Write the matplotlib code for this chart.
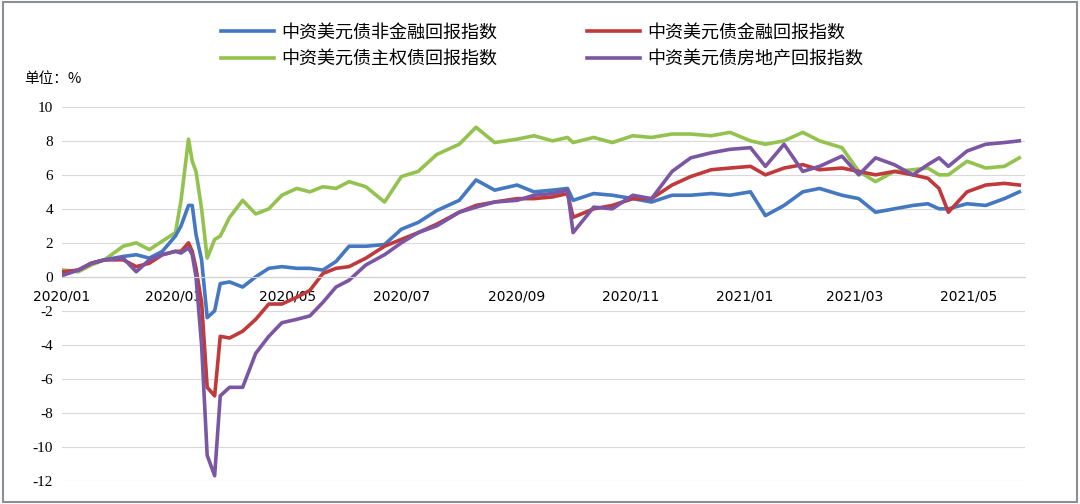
import matplotlib as mpl
mpl.use("Agg")
import matplotlib.pyplot as plt
from matplotlib.patches import Rectangle
import pandas as pd

dates = ["2020-01-02", "2020-01-10", "2020-01-17", "2020-01-24", "2020-02-03", "2020-02-10",
         "2020-02-17", "2020-02-24", "2020-03-02", "2020-03-05", "2020-03-09", "2020-03-11",
         "2020-03-13", "2020-03-16", "2020-03-19", "2020-03-23", "2020-03-26", "2020-03-31",
         "2020-04-07", "2020-04-14", "2020-04-21", "2020-04-28", "2020-05-06", "2020-05-13",
         "2020-05-20", "2020-05-27", "2020-06-03", "2020-06-12", "2020-06-22", "2020-07-01",
         "2020-07-10", "2020-07-20", "2020-08-01", "2020-08-10", "2020-08-20", "2020-09-01",
         "2020-09-10", "2020-09-20", "2020-09-28", "2020-10-01", "2020-10-12", "2020-10-22",
         "2020-11-02", "2020-11-12", "2020-11-23", "2020-12-03", "2020-12-14", "2020-12-24",
         "2021-01-04", "2021-01-12", "2021-01-22", "2021-02-01", "2021-02-10", "2021-02-22",
         "2021-03-03", "2021-03-12", "2021-03-22", "2021-04-01", "2021-04-09", "2021-04-15",
         "2021-04-20", "2021-04-30", "2021-05-10", "2021-05-20", "2021-05-28"]

nonfin = [0.2, 0.4, 0.8, 1.0, 1.2, 1.3, 1.1, 1.5, 2.4, 3.0, 4.2, 4.2, 2.5, 1.0, -2.4, -2.0,
          -0.4, -0.3, -0.6, 0.0, 0.5, 0.6, 0.5, 0.5, 0.4, 0.9, 1.8, 1.8, 1.9, 2.8, 3.2, 3.9,
          4.5, 5.7, 5.1, 5.4, 5.0, 5.1, 5.2, 4.5, 4.9, 4.8, 4.6, 4.4, 4.8, 4.8, 4.9, 4.8,
          5.0, 3.6, 4.2, 5.0, 5.2, 4.8, 4.6, 3.8, 4.0, 4.2, 4.3, 4.0, 4.0, 4.3, 4.2, 4.6, 5.0]
fin = [0.3, 0.4, 0.8, 1.0, 1.0, 0.6, 0.8, 1.3, 1.5, 1.5, 2.0, 1.5, 0.5, -1.5, -6.5, -7.0,
       -3.5, -3.6, -3.2, -2.5, -1.6, -1.6, -1.2, -0.8, 0.2, 0.5, 0.6, 1.1, 1.8, 2.2, 2.6, 3.1,
       3.8, 4.2, 4.4, 4.6, 4.6, 4.7, 4.9, 3.5, 4.0, 4.2, 4.6, 4.6, 5.4, 5.9, 6.3, 6.4,
       6.5, 6.0, 6.4, 6.6, 6.3, 6.4, 6.2, 6.0, 6.2, 6.0, 5.8, 5.2, 3.8, 5.0, 5.4, 5.5, 5.4]
sov = [0.4, 0.3, 0.7, 1.0, 1.8, 2.0, 1.6, 2.1, 2.6, 4.5, 8.1, 6.8, 6.2, 4.0, 1.1, 2.2,
       2.4, 3.5, 4.5, 3.7, 4.0, 4.8, 5.2, 5.0, 5.3, 5.2, 5.6, 5.3, 4.4, 5.9, 6.2, 7.2,
       7.8, 8.8, 7.9, 8.1, 8.3, 8.0, 8.2, 7.9, 8.2, 7.9, 8.3, 8.2, 8.4, 8.4, 8.3, 8.5,
       8.0, 7.8, 8.0, 8.5, 8.0, 7.6, 6.2, 5.6, 6.2, 6.3, 6.4, 6.0, 6.0, 6.8, 6.4, 6.5, 7.0]
prop = [0.1, 0.4, 0.8, 1.0, 1.1, 0.3, 1.0, 1.3, 1.5, 1.4, 1.7, 1.3, 0.0, -4.0, -10.5, -11.7,
        -7.0, -6.5, -6.5, -4.5, -3.5, -2.7, -2.5, -2.3, -1.5, -0.6, -0.2, 0.7, 1.3, 2.0, 2.6, 3.0,
        3.8, 4.1, 4.4, 4.5, 4.8, 4.9, 5.1, 2.6, 4.1, 4.0, 4.8, 4.6, 6.2, 7.0, 7.3, 7.5,
        7.6, 6.5, 7.8, 6.2, 6.5, 7.1, 6.0, 7.0, 6.6, 6.0, 6.6, 7.0, 6.5, 7.4, 7.8, 7.9, 8.0]

names = ["中资美元债非金融回报指数", "中资美元债金融回报指数",
         "中资美元债主权债回报指数", "中资美元债房地产回报指数"]
colors = ["#4478C0", "#C0393B", "#93C24F", "#7B56A3"]
tick_dates = ["2020-01-01", "2020-03-01", "2020-05-01", "2020-07-01", "2020-09-01",
              "2020-11-01", "2021-01-01", "2021-03-01", "2021-05-01"]
tick_labels = ["2020/01", "2020/03", "2020/05", "2020/07", "2020/09",
               "2020/11", "2021/01", "2021/03", "2021/05"]

cjk = ["Noto Sans CJK SC", "DejaVu Sans"]
serif = "Liberation Serif"

x = pd.to_datetime(dates)
fig = plt.figure(figsize=(10.8, 5.04), dpi=100)
fig.patches.append(Rectangle((0.003, 0.004), 0.994, 0.992, transform=fig.transFigure,
                             fill=False, edgecolor="#8a8f96", lw=1.5))
ax = fig.add_axes([0.057, 0.046, 0.892, 0.742])

lines = []
for s, n, c in zip([nonfin, fin, sov, prop], names, colors):
    ln, = ax.plot(x, s, color=c, lw=2.6, label=n)
    lines.append(ln)
lines[2].set_zorder(1.5)

ax.set_ylim(-12, 10)
ax.set_yticks(range(-12, 11, 2))
ax.set_yticklabels([str(v) for v in range(-12, 11, 2)], fontfamily=serif, fontsize=11)
ax.set_xlim(pd.Timestamp("2020-01-01"), pd.Timestamp("2021-05-31"))
ax.set_xticks(pd.to_datetime(tick_dates))
ax.set_xticklabels(tick_labels, fontfamily=serif, fontsize=11)
ax.tick_params(length=0, pad=6)
ax.tick_params(axis="x", pad=9)
ax.grid(axis="y", color="#d9d9d9", lw=0.8)
ax.set_axisbelow(True)
for sp in ["top", "right", "left"]:
    ax.spines[sp].set_visible(False)
ax.spines["bottom"].set_position(("data", 0))
ax.spines["bottom"].set_color("#d0d0d0")

fig.text(0.022, 0.835, "单位：%", family=cjk, fontsize=10.5)
# legend fills column-wise, so order handles to read row-wise like the reference
fig.legend(handles=[lines[0], lines[2], lines[1], lines[3]], ncol=2, loc="upper left",
           bbox_to_anchor=(0.19, 0.985), frameon=False, prop={"family": cjk, "size": 13},
           handlelength=2.9, columnspacing=5.0, labelspacing=0.45, handletextpad=0.4)

fig.savefig("out.png", dpi=100)
